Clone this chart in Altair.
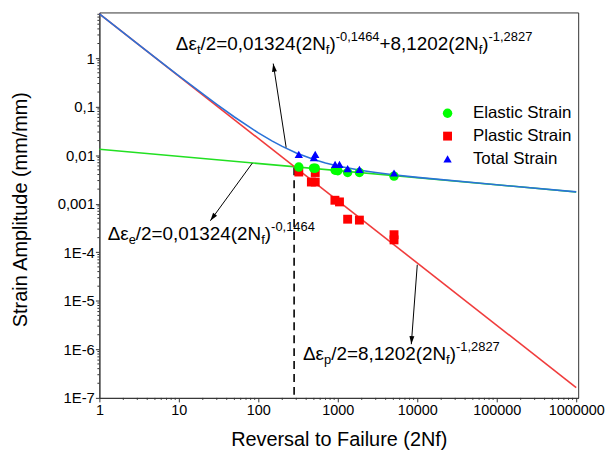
import json
import altair as alt
import pandas as pd

# ---------------- data ----------------
series_names = ["Elastic Strain", "Plastic Strain", "Total Strain"]

elastic_x = [323, 495, 520, 925, 1000, 1330, 1870, 5100]
elastic_y = [0.0057, 0.0054, 0.0054, 0.0049, 0.0048, 0.0044, 0.0044, 0.0037]
plastic_x = [323, 465, 520, 520, 920, 1050, 1330, 1870, 5100, 5100]
plastic_y = [0.0045, 0.0028, 0.0028, 0.0044, 0.00118, 0.00109, 0.00048, 0.00046, 0.00023, 0.00018]
total_x = [323, 500, 520, 925, 1050, 1330, 1870, 5100]
total_y = [0.0104, 0.0089, 0.0104, 0.0065, 0.0065, 0.0053, 0.0051, 0.0043]

# fitted lines
elastic_fit_x = [1, 1000000]
elastic_fit_y = [0.01324, 0.001751]
plastic_fit_x = [1, 1000000]
plastic_fit_y = [8.1202, 1.634e-7]
total_fit_x = [1, 2, 3, 5, 7, 10, 20, 30, 50, 100, 150, 200, 300, 500, 700,
               1000, 2000, 3000, 5000, 10000, 100000, 1000000]
total_fit_y = [8.133, 3.349, 1.996, 1.041, 0.6792, 0.4329, 0.1826, 0.1115, 0.06118,
               0.02883, 0.01949, 0.01517, 0.01114, 0.008132, 0.006895, 0.005968,
               0.004825, 0.004382, 0.003951, 0.003498, 0.002457, 0.001752]

# transition life (dashed line)
transition_x = [282]
transition_top = [0.00561]
transition_bottom = [1e-7]

# axis ticks
x_tick_values = [1, 10, 100, 1000, 10000, 100000, 1000000]
x_tick_labels = ["1", "10", "100", "1000", "10000", "100000", "1000000"]
y_tick_values = [1e-7, 1e-6, 1e-5, 1e-4, 1e-3, 1e-2, 1e-1, 1]
y_tick_labels = ["1E-7", "1E-6", "1E-5", "1E-4", "0,001", "0,01", "0,1", "1"]
minor_mantissas = [2, 3, 4, 5, 6, 7, 8, 9]
x_minor_decades = [1, 10, 100, 1000, 10000, 100000]
y_minor_decades = [1e-7, 1e-6, 1e-5, 1e-4, 1e-3, 1e-2, 1e-1, 1]

# annotations: anchors in data coordinates + text pieces (m = normal, sub, sup)
eq_total_anchor = (9.17, 1.458)
eq_total = [("Δε", "m"), ("t", "sub"), ("/2=0,01324(2N", "m"), ("f", "sub"), (")", "m"),
            ("-0,1464", "sup"), ("+8,1202(2N", "m"), ("f", "sub"), (")", "m"), ("-1,2827", "sup")]
eq_elastic_anchor = (1.27, 1.80e-4)
eq_elastic = [("Δε", "m"), ("e", "sub"), ("/2=0,01324(2N", "m"), ("f", "sub"), (")", "m"),
              ("-0,1464", "sup")]
eq_plastic_anchor = (365, 6.0e-7)
eq_plastic = [("Δε", "m"), ("p", "sub"), ("/2=8,1202(2N", "m"), ("f", "sub"), (")", "m"),
              ("-1,2827", "sup")]

arrow_tail_x = [224, 84.1, 10000]
arrow_tail_y = [0.01439, 0.00687, 5.53e-5]
arrow_head_x = [154, 24.9, 8414]
arrow_head_y = [0.772, 4.46e-4, 1.276e-6]
arrow_angle = [351.3, 216.1, 184.3]

# ---------------- styling ----------------
FONT = "Liberation Sans"
W, H = 482, 388
marker_colors = ["#00ff00", "#ff0000", "#0000ff"]
marker_shapes = ["circle", "square", "triangle-up"]
marker_sizes = [90, 70, 150]
ARROW = "M0,0L0.55,1.8L-0.55,1.8Z"

xscale = alt.Scale(type="log", domain=[1, 1.059e6], nice=False)
yscale = alt.Scale(type="log", domain=[1e-7, 8.73], nice=False)

x_label_expr = "%s[round(log(datum.value)/LN10)]" % json.dumps(x_tick_labels)
y_label_expr = "%s[round(log(datum.value)/LN10)+7]" % json.dumps(y_tick_labels)

x_axis = alt.Axis(values=x_tick_values, labelExpr=x_label_expr, title="Reversal to Failure (2Nf)",
                  grid=False, tickSize=4, labelPadding=2, labelFontSize=14.5, titleFontSize=20,
                  titleFontWeight="normal", labelFlush=False, labelOverlap=False,
                  titleY=48, titleBaseline="alphabetic")
y_axis = alt.Axis(values=y_tick_values, labelExpr=y_label_expr, title="Strain Amplitude (mm/mm)",
                  grid=False, tickSize=4, labelPadding=1, labelFontSize=15, titleFontSize=20,
                  titleFontWeight="normal", labelFlush=False, labelOverlap=False,
                  titleX=-69, titleY=H / 2 + 4, titleBaseline="bottom", titleAlign="center",
                  titleAngle=270)


def X(field="x"):
    return alt.X(f"{field}:Q", scale=xscale, axis=x_axis)


def Y(field="y"):
    return alt.Y(f"{field}:Q", scale=yscale, axis=y_axis)


CW = {**{d: 0.556 for d in "0123456789"}, ",": 0.278, "/": 0.278, "=": 0.584, "+": 0.584,
      "-": 0.333, "(": 0.333, ")": 0.333, "N": 0.722, "f": 0.278, "t": 0.278, "e": 0.556,
      "p": 0.556, "Δ": 0.668, "ε": 0.446}


def tw(s, fs):
    return sum(CW.get(c, 0.556) for c in s) * fs


def equation(anchor, pieces, main=19, small=13):
    df = pd.DataFrame({"x": [anchor[0]], "y": [anchor[1]]})
    out = []
    off = 0.0
    for txt, kind in pieces:
        fs = main if kind == "m" else small
        dy = 0 if kind == "m" else (4 if kind == "sub" else -9)
        out.append(alt.Chart(df).mark_text(text=txt, align="left", baseline="alphabetic",
                                           dx=off, dy=dy, fontSize=fs, font=FONT, color="black")
                   .encode(x=X(), y=Y()))
        off += tw(txt, fs)
    return out


# ---------------- layers ----------------
elastic_fit = alt.Chart(pd.DataFrame({"x": elastic_fit_x, "y": elastic_fit_y})).mark_line(
    color="#22e022", strokeWidth=1.6).encode(x=X(), y=Y())
plastic_fit = alt.Chart(pd.DataFrame({"x": plastic_fit_x, "y": plastic_fit_y})).mark_line(
    color="#f03c3c", strokeWidth=1.6).encode(x=X(), y=Y())
total_fit = alt.Chart(pd.DataFrame({"x": total_fit_x, "y": total_fit_y})).mark_line(
    color="#2a72d8", strokeWidth=1.6).encode(x=X(), y=Y())

transition = alt.Chart(pd.DataFrame({"x": transition_x, "y": transition_top,
                                     "y2": transition_bottom})).mark_rule(
    color="black", strokeWidth=1.6, strokeDash=[8, 5]).encode(x=X(), y=Y(), y2="y2:Q")

points_df = pd.concat([
    pd.DataFrame({"x": plastic_x, "y": plastic_y, "series": series_names[1]}),
    pd.DataFrame({"x": elastic_x, "y": elastic_y, "series": series_names[0]}),
    pd.DataFrame({"x": total_x, "y": total_y, "series": series_names[2]}),
], ignore_index=True)

leg = alt.Legend(title=None, orient="none", legendX=342, legendY=93, labelFontSize=17,
                 labelFont=FONT, labelOffset=17, rowPadding=5, padding=0,
                 symbolStrokeWidth=0, labelColor="black")
points = alt.Chart(points_df).mark_point(filled=True, opacity=1, strokeWidth=0).encode(
    x=X(), y=Y(),
    color=alt.Color("series:N", scale=alt.Scale(domain=series_names, range=marker_colors), legend=leg),
    shape=alt.Shape("series:N", scale=alt.Scale(domain=series_names, range=marker_shapes), legend=leg),
    size=alt.Size("series:N", scale=alt.Scale(domain=series_names, range=marker_sizes), legend=leg),
)

x_minor = [m * d for d in x_minor_decades for m in minor_mantissas]
y_minor = [m * d for d in y_minor_decades for m in minor_mantissas if m * d < 8.73]
x_minor_ticks = alt.Chart(pd.DataFrame({"x": x_minor})).mark_rule(color="#333", strokeWidth=1).encode(
    x=X(), y=alt.value(H), y2=alt.value(H + 2))
y_minor_ticks = alt.Chart(pd.DataFrame({"y": y_minor})).mark_rule(color="#333", strokeWidth=1).encode(
    y=Y(), x=alt.value(-2), x2=alt.value(0))

arrow_df = pd.DataFrame({"x": arrow_tail_x, "y": arrow_tail_y, "x2": arrow_head_x,
                         "y2": arrow_head_y, "angle": arrow_angle})
shafts = alt.Chart(arrow_df).mark_rule(color="black", strokeWidth=1).encode(
    x=X(), y=Y(), x2="x2:Q", y2="y2:Q")
heads = alt.Chart(arrow_df).mark_point(shape=ARROW, filled=True, color="black", opacity=1,
                                       size=81, strokeWidth=0).encode(
    x=X("x2"), y=Y("y2"), angle=alt.Angle("angle:Q", scale=None))

layers = [elastic_fit, plastic_fit, total_fit, x_minor_ticks, y_minor_ticks, transition, points,
          shafts, heads]
layers += equation(eq_total_anchor, eq_total)
layers += equation(eq_elastic_anchor, eq_elastic)
layers += equation(eq_plastic_anchor, eq_plastic)

chart = alt.layer(*layers).properties(
    width=W, height=H,
    autosize=alt.AutoSizeParams(type="none"),
    padding={"left": 92, "top": 3, "right": 28, "bottom": 52},
).configure_view(stroke="#333", strokeWidth=1).configure_axis(
    domainColor="#333", tickColor="#333", labelColor="black", titleColor="black",
    labelFont=FONT, titleFont=FONT, domainWidth=1, tickWidth=1,
)

chart.save("out.html", embed_options={"renderer": "svg", "actions": False})
